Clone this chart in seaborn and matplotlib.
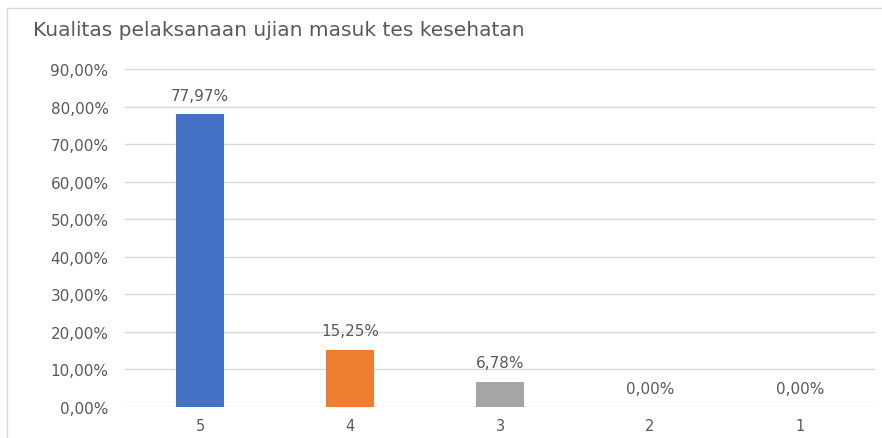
"""Bar chart: Kualitas pelaksanaan ujian masuk tes kesehatan."""

import matplotlib.pyplot as plt
import matplotlib.patches as mpatches
from matplotlib.ticker import FuncFormatter, MultipleLocator
import pandas as pd
import seaborn as sns

categories = ["5", "4", "3", "2", "1"]
percentages = [77.97, 15.25, 6.78, 0.00, 0.00]
bar_colors = ["#4472C4", "#ED7D31", "#A5A5A5", "#FFC000", "#5B9BD5"]

TITLE = "Kualitas pelaksanaan ujian masuk tes kesehatan"
TEXT_COLOR = "#595959"
GRID_COLOR = "#D9D9D9"

sns.set_theme(style="white")
plt.rcParams["font.family"] = ["DejaVu Sans"]


def pct_label(v: float) -> str:
    return f"{v:.2f}%".replace(".", ",")


df = pd.DataFrame({"category": categories, "value": [p / 100 for p in percentages]})

fig = plt.figure(figsize=(8.82, 4.39), dpi=100)
ax = fig.add_axes([0.142, 0.0706, 0.850, 0.770])

sns.barplot(
    data=df,
    x="category",
    y="value",
    hue="category",
    palette=bar_colors,
    order=categories,
    hue_order=categories,
    legend=False,
    width=0.32,
    saturation=1,
    linewidth=0,
    ax=ax,
    zorder=3,
)

ax.set_ylim(0, 0.9)
ax.yaxis.set_major_locator(MultipleLocator(0.1))
ax.yaxis.set_major_formatter(FuncFormatter(lambda v, _: pct_label(v * 100)))
ax.grid(axis="y", color=GRID_COLOR, linewidth=1, zorder=0)
ax.set_axisbelow(True)
for side in ["top", "right", "left", "bottom"]:
    ax.spines[side].set_visible(False)
ax.tick_params(axis="both", length=0, colors=TEXT_COLOR, labelsize=11)
ax.tick_params(axis="y", pad=12)
ax.tick_params(axis="x", pad=8, labelsize=10.5)
ax.set_xlabel("")
ax.set_ylabel("")

for i, v in enumerate(percentages):
    ax.annotate(
        pct_label(v),
        xy=(i, v / 100),
        xytext=(0, 13.5),
        textcoords="offset points",
        ha="center",
        va="center",
        fontsize=11,
        color=TEXT_COLOR,
    )

fig.text(0.037, 0.93, TITLE, fontsize=14.5, color=TEXT_COLOR, ha="left", va="center")

fig.patches.append(
    mpatches.Rectangle(
        (0.008, -0.02), 1.1, 1.0,
        transform=fig.transFigure, fill=False, edgecolor=GRID_COLOR, linewidth=1,
    )
)

fig.savefig("out.png", dpi=100)
